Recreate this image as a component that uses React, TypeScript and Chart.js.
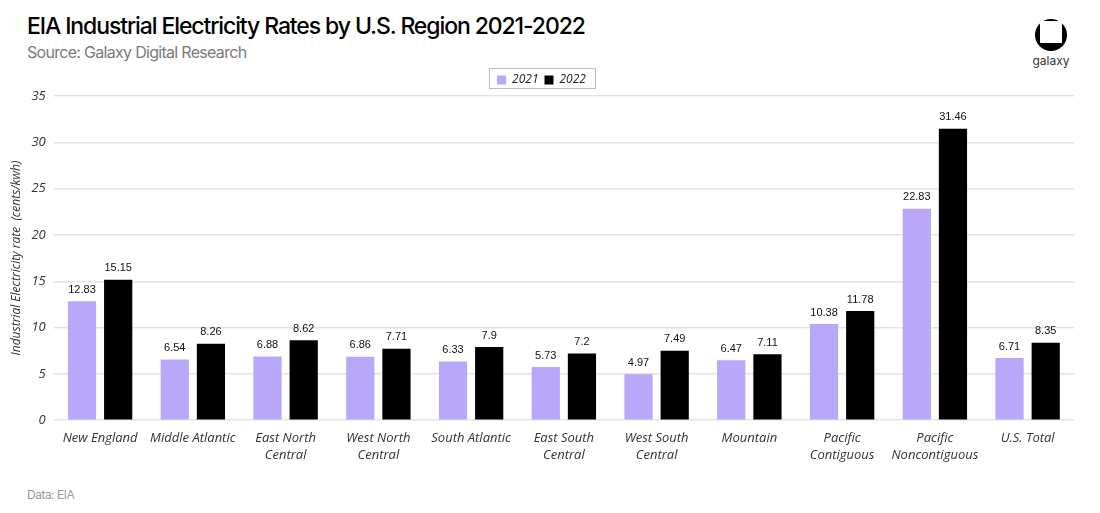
import React, { useEffect, useRef } from "react";
import { Chart, registerables } from "chart.js";

Chart.register(...registerables);

const categories: (string | string[])[] = [
  "New England",
  "Middle Atlantic",
  ["East North", "Central"],
  ["West North", "Central"],
  "South Atlantic",
  ["East South", "Central"],
  ["West South", "Central"],
  "Mountain",
  ["Pacific", "Contiguous"],
  ["Pacific", "Noncontiguous"],
  "U.S. Total",
];
const values2021 = [12.83, 6.54, 6.88, 6.86, 6.33, 5.73, 4.97, 6.47, 10.38, 22.83, 6.71];
const values2022 = [15.15, 8.26, 8.62, 7.71, 7.9, 7.2, 7.49, 7.11, 11.78, 31.46, 8.35];
const yTicks = [0, 5, 10, 15, 20, 25, 30, 35];

const PURPLE = "#B9A7F9";

const valueLabels = {
  id: "valueLabels",
  afterDatasetsDraw(chart: any) {
    const ctx = chart.ctx;
    ctx.save();
    ctx.font = "11px 'Liberation Sans', Arial, sans-serif";
    ctx.fillStyle = "#111";
    ctx.textAlign = "center";
    ctx.textBaseline = "bottom";
    chart.data.datasets.forEach((ds: any, di: number) => {
      const meta = chart.getDatasetMeta(di);
      meta.data.forEach((bar: any, i: number) => {
        ctx.fillText(String(ds.data[i]), bar.x, bar.y - 6);
      });
    });
    ctx.restore();
  },
};

const legendBox = {
  id: "legendBox",
  afterDraw(chart: any) {
    const lg = chart.legend;
    if (!lg) return;
    const ctx = chart.ctx;
    ctx.save();
    ctx.strokeStyle = "#bdbdbd";
    ctx.lineWidth = 1;
    const w = 106;
    const h = 20;
    const cx = lg.left + lg.width / 2;
    ctx.strokeRect(Math.round(cx - w / 2) + 0.5, Math.round(lg.top) + 0.5, w, h);
    ctx.restore();
  },
};

function ChartCanvas() {
  const ref = useRef<HTMLCanvasElement | null>(null);
  useEffect(() => {
    if (!ref.current) return;
    const chart = new Chart(ref.current, {
      type: "bar",
      data: {
        labels: categories,
        datasets: [
          {
            label: "2021",
            data: values2021,
            backgroundColor: PURPLE,
            categoryPercentage: 0.78,
            barPercentage: 0.78,
          },
          {
            label: "2022",
            data: values2022,
            backgroundColor: "#000000",
            categoryPercentage: 0.78,
            barPercentage: 0.78,
          },
        ],
      },
      options: {
        animation: false,
        responsive: false,
        maintainAspectRatio: false,
        layout: { padding: { left: 9, right: 26, top: 8, bottom: 0 } },
        plugins: {
          legend: {
            display: true,
            position: "top",
            labels: {
              boxWidth: 9,
              boxHeight: 9,
              padding: 6,
              color: "#222",
              font: { family: "'Open Sans', sans-serif", size: 12, style: "italic" },
            },
          },
          tooltip: { enabled: false },
        },
        scales: {
          x: {
            grid: { display: false },
            border: { display: false },
            ticks: {
              color: "#333",
              maxRotation: 0,
              autoSkip: false,
              padding: 2,
              font: { family: "'Open Sans', sans-serif", size: 13, style: "italic", lineHeight: 1.3 },
            },
          },
          y: {
            min: 0,
            max: 35,
            afterBuildTicks: (axis: any) => {
              axis.ticks = yTicks.map((v) => ({ value: v }));
            },
            grid: { color: "#e3e3e3", lineWidth: 1.5, drawTicks: false },
            border: { display: false },
            ticks: {
              color: "#333",
              padding: 8,
              font: { family: "'Open Sans', sans-serif", size: 13, style: "italic" },
            },
            title: {
              display: true,
              text: "Industrial Electricity rate  (cents/kwh)",
              color: "#333",
              padding: { top: 0, bottom: 0 },
              font: { family: "'Open Sans', sans-serif", size: 12, style: "italic" },
            },
          },
        },
      },
      plugins: [valueLabels, legendBox],
    });
    return () => chart.destroy();
  }, []);
  return (
    <canvas
      ref={ref}
      width={1100}
      height={406}
      style={{ position: "absolute", left: 0, top: 60, width: 1100, height: 406 }}
    />
  );
}

export default function App() {
  useEffect(() => {
    document.body.style.margin = "0";
  }, []);
  return (
    <div style={{ position: "relative", width: 1100, height: 513, background: "#fff", overflow: "hidden" }}>
      <div
        style={{
          position: "absolute",
          left: 27,
          top: 12,
          fontFamily: "Inter, sans-serif",
          fontWeight: 500,
          fontSize: 23,
          letterSpacing: -1.1,
          color: "#000",
          whiteSpace: "nowrap",
        }}
      >
        EIA Industrial Electricity Rates by U.S. Region 2021-2022
      </div>
      <div
        style={{
          position: "absolute",
          left: 27,
          top: 42,
          fontFamily: "Inter, sans-serif",
          fontSize: 16,
          letterSpacing: -0.7,
          color: "#7a7a7a",
          whiteSpace: "nowrap",
        }}
      >
        Source: Galaxy Digital Research
      </div>
      <div style={{ position: "absolute", left: 1035, top: 19, width: 32, height: 32 }}>
        <div style={{ position: "absolute", left: 0, top: 0, width: 32, height: 32, borderRadius: 16, background: "#000" }} />
        <div style={{ position: "absolute", left: 5, top: 2, width: 22, height: 22, background: "#fff" }} />
      </div>
      <div
        style={{
          position: "absolute",
          left: 1020,
          top: 53,
          width: 62,
          textAlign: "center",
          fontFamily: "Inter, sans-serif",
          fontSize: 12,
          color: "#333",
        }}
      >
        galaxy
      </div>
      <ChartCanvas />
      <div
        style={{
          position: "absolute",
          left: 27,
          top: 487,
          fontFamily: "Inter, sans-serif",
          fontSize: 12,
          letterSpacing: -0.5,
          color: "#9a9a9a",
        }}
      >
        Data: EIA
      </div>
    </div>
  );
}
